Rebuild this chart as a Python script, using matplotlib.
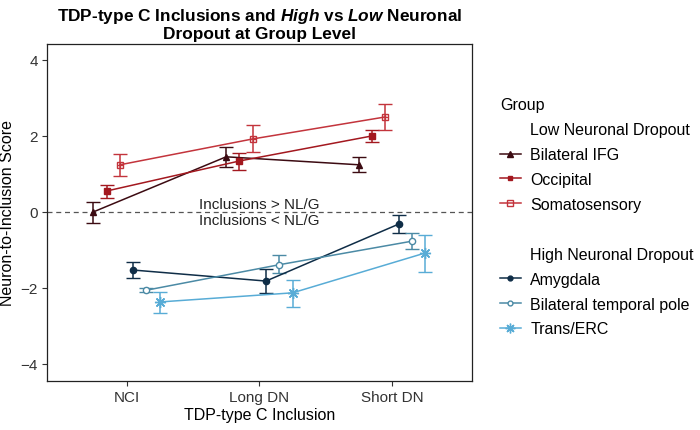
import numpy as np
import matplotlib
matplotlib.use("Agg")
from matplotlib import pyplot as plt
from matplotlib.lines import Line2D

plt.rcParams['font.family'] = ['Liberation Sans', 'DejaVu Sans']
plt.rcParams['mathtext.fontset'] = 'custom'
plt.rcParams['mathtext.rm'] = 'Liberation Sans:bold'
plt.rcParams['mathtext.it'] = 'Liberation Sans:bold:italic'
plt.rcParams['mathtext.bf'] = 'Liberation Sans:bold'

# data
inclusion_types = ['NCI', 'Long DN', 'Short DN']
groups = ['Bilateral IFG', 'Occipital', 'Somatosensory',
          'Amygdala', 'Bilateral temporal pole', 'Trans/ERC']

ifg_mean = [0.00, 1.45, 1.24]
ifg_low = [-0.29, 1.18, 1.05]
ifg_high = [0.26, 1.71, 1.45]

occ_mean = [0.55, 1.34, 2.00]
occ_low = [0.37, 1.10, 1.84]
occ_high = [0.71, 1.55, 2.16]

soma_mean = [1.24, 1.92, 2.50]
soma_low = [0.95, 1.58, 2.16]
soma_high = [1.53, 2.29, 2.84]

amy_mean = [-1.53, -1.82, -0.32]
amy_low = [-1.74, -2.13, -0.55]
amy_high = [-1.32, -1.50, -0.08]

btp_mean = [-2.06, -1.39, -0.77]
btp_low = [-2.10, -1.60, -0.98]
btp_high = [-2.00, -1.13, -0.55]

erc_mean = [-2.37, -2.13, -1.08]
erc_low = [-2.66, -2.50, -1.58]
erc_high = [-2.10, -1.79, -0.60]

star = (8, 2, 0)
series = [
    (ifg_mean, ifg_low, ifg_high, '#3c0b12', '^', '#3c0b12', 5),
    (occ_mean, occ_low, occ_high, '#a3181f', 's', '#a3181f', 4.5),
    (soma_mean, soma_low, soma_high, '#c3343c', 's', 'none', 5),
    (amy_mean, amy_low, amy_high, '#0f2d47', 'o', '#0f2d47', 4.5),
    (btp_mean, btp_low, btp_high, '#4b8aa5', 'o', 'white', 4.5),
    (erc_mean, erc_low, erc_high, '#58acd6', star, '#58acd6', 8),
]

fig = plt.figure(figsize=(7, 4.31), dpi=100)
ax = fig.add_axes([0.067, 0.1137, 0.607, 0.782])

x = np.arange(1, len(inclusion_types) + 1)
offsets = [-0.25, -0.15, -0.05, 0.05, 0.15, 0.25]

ax.axhline(0, color='#555555', lw=0.9, ls=(0, (4, 3)), zorder=1)

handles = []
for (m, lo, hi, col, mk, fc, ms), off, name in zip(series, offsets, groups):
    m = np.array(m)
    yerr = [m - np.array(lo), np.array(hi) - m]
    ax.errorbar(x + off, m, yerr=yerr, color=col, lw=1.1, elinewidth=1.1,
                capsize=5, capthick=1.1, marker=mk, markersize=ms,
                markerfacecolor=fc, markeredgecolor=col, markeredgewidth=1.0, zorder=3)
    if name == 'Somatosensory':
        ax.plot(x + off, m, ls='none', marker='+', markersize=5, color=col,
                markeredgewidth=0.9, zorder=4)
    handles.append(Line2D([], [], color=col, lw=1.1, marker=mk, markersize=ms - 1,
                          markerfacecolor=fc, markeredgecolor=col))

ax.text(2, 0.02, 'Inclusions > NL/G', ha='center', va='bottom', fontsize=11, color='#222222')
ax.text(2, -0.02, 'Inclusions < NL/G', ha='center', va='top', fontsize=11, color='#222222')

ax.set_xlim(0.4, 3.6)
ax.set_ylim(-4.45, 4.42)
ax.set_xticks(x)
ax.set_xticklabels(inclusion_types)
ax.set_yticks([-4, -2, 0, 2, 4])
ax.tick_params(labelsize=11, colors='#333333', length=3.5, width=0.8, pad=3)
for sp in ax.spines.values():
    sp.set_linewidth(0.9)
    sp.set_color('#222222')
ax.set_xlabel('TDP-type C Inclusion', fontsize=11.5, labelpad=2)
ax.set_ylabel('Neuron-to-Inclusion Score', fontsize=11.5, labelpad=4)

ax.set_title('TDP-type C Inclusions and $\\mathit{High}$ vs $\\mathit{Low}$ Neuronal\nDropout at Group Level',
             fontsize=12.4, fontweight='bold', pad=4, linespacing=1.1)

blank = Line2D([], [], color='none')
leg_handles = [blank] + handles[:3] + [blank, blank] + handles[3:]
leg_labels = ['Low Neuronal Dropout'] + groups[:3] + ['', 'High Neuronal Dropout'] + groups[3:]
leg = fig.legend(leg_handles, leg_labels, loc='upper left', bbox_to_anchor=(0.703, 0.79),
                 frameon=False, fontsize=11.5, title='Group', title_fontsize=11.5,
                 handlelength=1.3, handletextpad=0.6, labelspacing=0.62, borderpad=0,
                 alignment='left')
leg._legend_box.sep = 7

fig.savefig('out.png', dpi=100)
